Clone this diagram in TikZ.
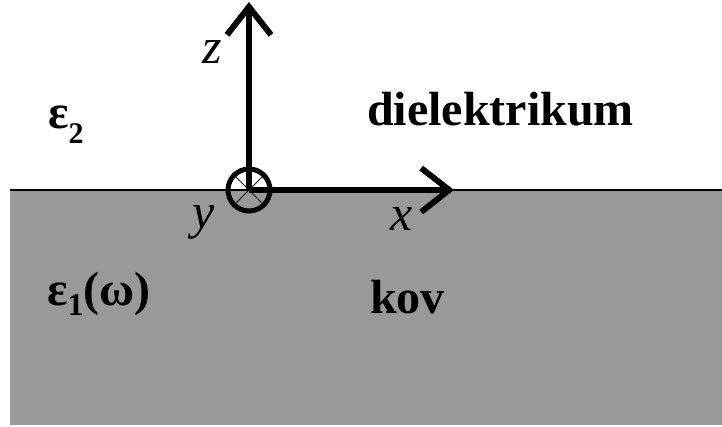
\documentclass[tikz,border=0pt]{standalone}
\usepackage{fontspec}
\setmainfont{Liberation Serif}
\usetikzlibrary{arrows.meta}
\definecolor{metalgray}{RGB}{153,153,153}

\begin{document}
\begin{tikzpicture}[x=1pt, y=-1pt,
  axis/.style={line width=6pt, -{Straight Barb[length=28pt, width=44pt]}},
  medium/.style={font=\fontsize{48}{52}\selectfont\bfseries, anchor=base west, inner sep=0pt},
  axislabel/.style={font=\fontsize{50}{54}\selectfont\itshape, anchor=base west, inner sep=0pt}]
\useasboundingbox (0,0) rectangle (722,426);
% Metal half-space (below)
\fill[metalgray] (10,190) rectangle (722,425);
\draw[line width=1.5pt] (10,190) -- (722,190);
% Axes
\coordinate (O) at (249,190);
\coordinate (ztip) at (249,2);
\coordinate (xtip) at (454,190);
\draw[axis] (O) -- (ztip);
\draw[axis] (O) -- (xtip);
% y axis into the page
\node[circle, draw, line width=5pt, minimum size=42pt, inner sep=0pt] (ysym) at (O) {};
\draw[line width=0.8pt] (ysym.north west) -- (ysym.south east) (ysym.north east) -- (ysym.south west);
\node[axislabel] (zlabel) at (202,63) {z};
\node[axislabel] (ylabel) at (192,228) {y};
\node[axislabel] (xlabel) at (390,230) {x};
% Media labels
\node[medium] (eps2) at (48,128) {ε\raisebox{-15pt}{\fontsize{30}{30}\selectfont 2}};
\node[medium] (dielectric) at (367,125) {dielektrikum};
\node[medium] (eps1) at (47,305) {ε\raisebox{-10pt}{\fontsize{32}{32}\selectfont 1}(ω)};
\node[medium] (metal) at (370,313) {kov};
\end{tikzpicture}
\end{document}
